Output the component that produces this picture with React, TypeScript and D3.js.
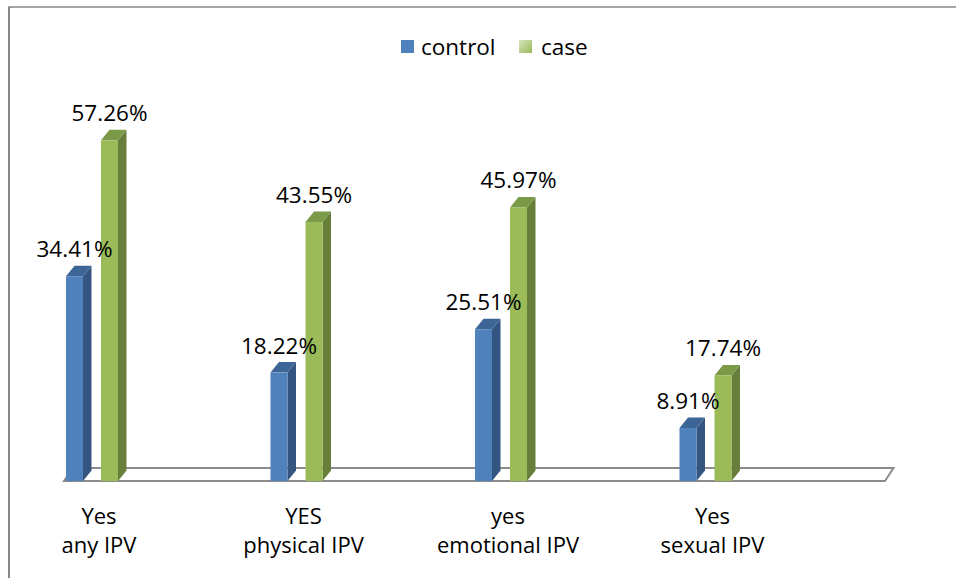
import * as d3 from 'd3'

const categories = ['Yes|any IPV', 'YES|physical IPV', 'yes|emotional IPV', 'Yes|sexual IPV']
const controlValues = [34.41, 18.22, 25.51, 8.91]
const caseValues = [57.26, 43.55, 45.97, 17.74]
const seriesNames = ['control', 'case']

const W = 956
const H = 578
const FONT = '"Open Sans", "Noto Sans", sans-serif'

const BASE_Y = 481
const DX = 8.5
const DY = 10.5
const BAR_W = 17

const FACES = [
  { front: '#4f81bd', side: '#34557f', top: '#3d6696' },
  { front: '#9bbb59', side: '#687f3b', top: '#7b9a47' },
]

function Bar3D({ x, top, colors }: { x: number; top: number; colors: typeof FACES[0] }) {
  const r = x + BAR_W
  return (
    <g>
      <polygon
        points={`${r},${top} ${r + DX},${top - DY} ${r + DX},${BASE_Y - DY} ${r},${BASE_Y}`}
        fill={colors.side}
      />
      <polygon
        points={`${x},${top} ${x + DX},${top - DY} ${r + DX},${top - DY} ${r},${top}`}
        fill={colors.top}
      />
      <rect x={x} y={top} width={BAR_W} height={BASE_Y - top} fill={colors.front} />
    </g>
  )
}

export default function App() {
  const x = d3.scaleBand<string>().domain(categories).range([64, 882])
  const y = d3.scaleLinear().domain([0, 60]).range([BASE_Y, BASE_Y - 60 * 5.95])

  const floorLeft = 64
  const floorRight = 885
  const floorBack = 468

  return (
    <svg
      width={W}
      height={H}
      style={{ position: 'absolute', left: 0, top: 0, background: '#fff' }}
      fontFamily={FONT}
    >
      <defs>
        <linearGradient id="legCase" x1="0" y1="0" x2="1" y2="1">
          <stop offset="0" stopColor="#d7e4bd" />
          <stop offset="1" stopColor="#9bbb59" />
        </linearGradient>
      </defs>
      <rect x={9} y={7} width={W + 20} height={H + 20} fill="none" stroke="#868686" strokeWidth={1.5} />
      <line x1={9} y1={7} x2={9} y2={H} stroke="#868686" strokeWidth={2} />

      {/* legend */}
      <rect x={401} y={40} width={13} height={13} fill="#4f81bd" />
      <text x={421} y={55} fontSize={22.5} fill="#000">{seriesNames[0]}</text>
      <rect x={519} y={40} width={13} height={13} fill="url(#legCase)" />
      <text x={541} y={55} fontSize={22.5} fill="#000">{seriesNames[1]}</text>

      {/* floor */}
      <polygon
        points={`${floorLeft},${BASE_Y} ${floorRight},${BASE_Y} ${floorRight + DX},${floorBack} ${floorLeft + DX},${floorBack}`}
        fill="#fff"
        stroke="#8c8c8c"
        strokeWidth={2}
      />

      {categories.map((c, i) => {
        const bx = x(c)!
        const vals = [controlValues[i], caseValues[i]]
        const offs = [2, 37]
        return (
          <g key={c}>
            {vals.map((v, s) => (
              <Bar3D key={s} x={bx + offs[s]} top={y(v)} colors={FACES[s]} />
            ))}
            {vals.map((v, s) => (
              <text
                key={'t' + s}
                x={bx + offs[s] + BAR_W / 2}
                y={y(v) - 19}
                textAnchor="middle"
                fontSize={22.5}
                fill="#000"
              >
                {v.toFixed(2)}%
              </text>
            ))}
            {c.split('|').map((line, li) => (
              <text
                key={'l' + li}
                x={bx + 35}
                y={524 + li * 29}
                textAnchor="middle"
                fontSize={22}
                fill="#000"
              >
                {line}
              </text>
            ))}
          </g>
        )
      })}
    </svg>
  )
}
